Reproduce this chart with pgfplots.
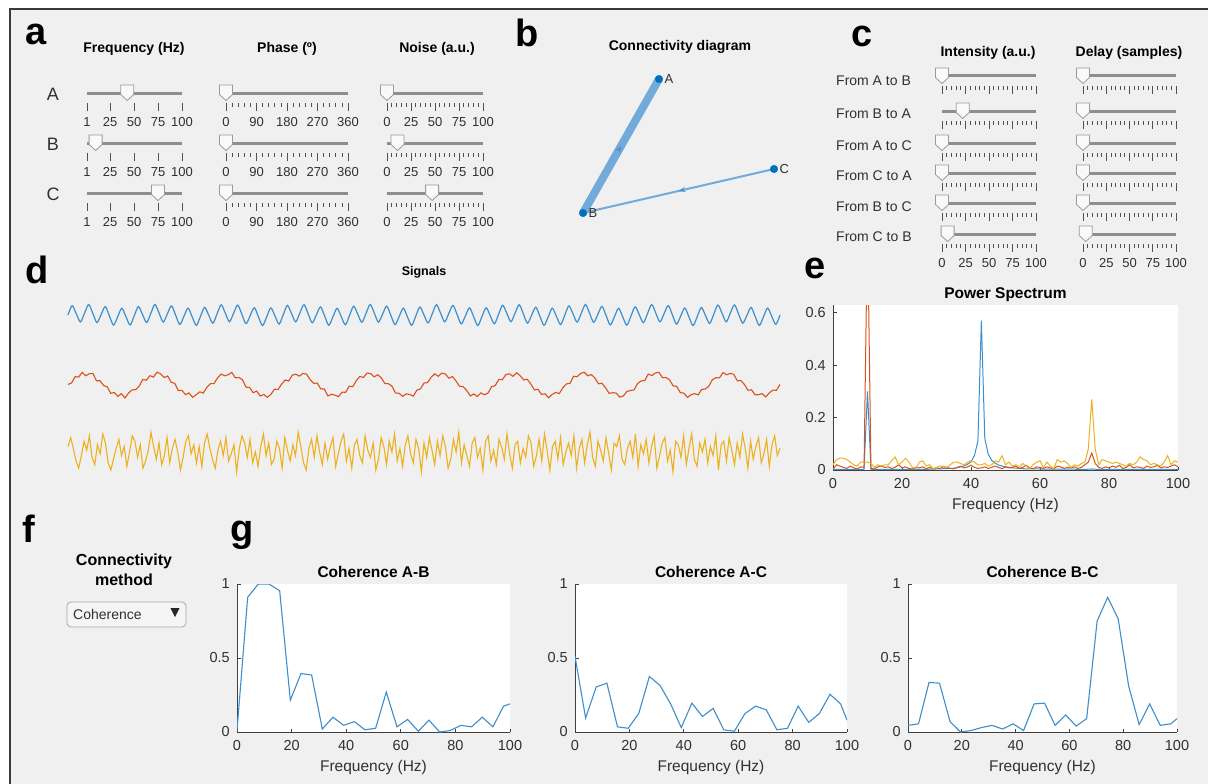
\documentclass[border=0pt]{standalone}
\usepackage{fontspec}
\setmainfont{Liberation Sans}
\usepackage{pgfplots}
\pgfplotsset{compat=1.18}
\usepackage{pgfplotstable}
\usetikzlibrary{decorations.markings, arrows.meta}

\definecolor{bg}{HTML}{F0F0F0}
\definecolor{border}{HTML}{3A3A3A}
\definecolor{axgray}{HTML}{404040}
\definecolor{tickgray}{HTML}{303030}
\definecolor{trackgray}{HTML}{8E8E8E}
\definecolor{sltick}{HTML}{505050}
\definecolor{thumbedge}{HTML}{9A9A9A}
\definecolor{thumbfill}{HTML}{F9F9F9}
\definecolor{mblue}{HTML}{0072BD}
\definecolor{lblue}{HTML}{3D8FCC}
\definecolor{mred}{HTML}{D95319}
\definecolor{myel}{HTML}{EDB120}
\definecolor{edgeblue}{HTML}{72ABD9}
\definecolor{edgedark}{HTML}{4F92CC}

\pgfdeclareplotmark{thumb}{%
  \pgfpathmoveto{\pgfqpoint{-6.5pt}{8pt}}%
  \pgfpathlineto{\pgfqpoint{6.5pt}{8pt}}%
  \pgfpathlineto{\pgfqpoint{6.5pt}{-1.5pt}}%
  \pgfpathlineto{\pgfqpoint{0pt}{-7.5pt}}%
  \pgfpathlineto{\pgfqpoint{-6.5pt}{-1.5pt}}%
  \pgfpathclose
  \pgfusepathqfillstroke}

\pgfplotsset{
  slider/.style={
    scale only axis, height=10pt, ymin=0, ymax=1, anchor=north west,
    axis x line*=bottom, axis y line=none,
    x axis line style={draw=none},
    tick align=outside, major tick length=8pt, minor tick length=3.5pt,
    minor x tick num=4,
    tick style={draw=sltick, line width=0.8pt},
    xticklabel style={font=\fontsize{13}{13}\selectfont, text=tickgray, anchor=center, inner sep=0pt, yshift=-11pt},
    /pgf/number format/assume math mode=true,
    clip=false,
  },
  nolab/.style={xticklabels={}},
  withlab/.style={},
  matax/.style={
    scale only axis, anchor=south west,
    axis background/.style={fill=white},
    axis x line*=bottom, axis y line*=left,
    axis line style={draw=axgray, line width=0.8pt},
    tick align=inside, major tick length=3.5pt,
    tick style={draw=axgray, line width=0.8pt},
    xticklabel style={font=\fontsize{14.5}{15}\selectfont, text=tickgray, anchor=center, inner sep=0pt, yshift=-13.5pt},
    yticklabel style={font=\fontsize{14.5}{15}\selectfont, text=tickgray, anchor=east, inner sep=0pt, xshift=-7pt},
    /pgf/number format/assume math mode=true,
    xlabel style={font=\fontsize{15.5}{16}\selectfont, text=tickgray, at={(0.5,0)}, anchor=center, yshift=-35.5pt},
    title style={font=\fontsize{15.5}{16}\selectfont\bfseries, at={(0.5,1)}, anchor=base, yshift=1pt},
    enlargelimits=false,
    xmin=0, xmax=100, xtick={0,20,...,100},
  },
}

\newcommand\slider[8]{%
\begin{axis}[slider, at={(#1pt,-#2pt)}, width=#3pt, xmin=#4, xmax=#5, xtick={#6}, #8]
\addplot[draw=trackgray, line width=3pt] coordinates {(#4,1) (#5,1)};
\addplot[only marks, mark=thumb, mark options={fill=thumbfill, draw=thumbedge, line width=0.8pt}] coordinates {(#7,1)};
\end{axis}}

\pgfplotstableread[row sep=\\]{
f ab ac bc\\
0 0.01 0.51 0.045\\
3.906 0.91 0.095 0.055\\
7.813 1.0 0.305 0.335\\
11.719 1.0 0.33 0.33\\
15.625 0.955 0.035 0.07\\
19.531 0.215 0.025 0.0\\
23.438 0.395 0.125 0.01\\
27.344 0.385 0.375 0.03\\
31.25 0.02 0.315 0.045\\
35.156 0.10 0.19 0.02\\
39.063 0.045 0.03 0.055\\
42.969 0.07 0.195 0.01\\
46.875 0.015 0.105 0.19\\
50.781 0.025 0.16 0.195\\
54.688 0.27 0.015 0.045\\
58.594 0.035 0.005 0.115\\
62.5 0.085 0.125 0.04\\
66.406 0.005 0.175 0.09\\
70.313 0.08 0.15 0.75\\
74.219 0.0 0.015 0.91\\
78.125 0.01 0.025 0.765\\
82.031 0.045 0.175 0.31\\
85.938 0.035 0.065 0.05\\
89.844 0.10 0.125 0.19\\
93.75 0.035 0.255 0.045\\
97.656 0.175 0.19 0.055\\
100 0.19 0.08 0.09\\
}\coh

\pgfplotstableread[row sep=\\]{
f A B C\\
0 0.002 0.003 0.02\\
1 0.002 0.02 0.04\\
2 0.002 0.015 0.045\\
3 0.002 0.01 0.045\\
4 0.002 0.006 0.04\\
5 0.002 0.015 0.03\\
6 0.002 0.008 0.02\\
7 0.002 0.004 0.015\\
8 0.002 0.012 0.03\\
9 0.003 0.01 0.03\\
10 0.30 0.95 0.03\\
11 0.003 0.006 0.025\\
12 0.002 0.004 0.01\\
13 0.002 0.012 0.02\\
14 0.002 0.015 0.015\\
15 0.002 0.01 0.02\\
16 0.002 0.012 0.02\\
17 0.002 0.006 0.035\\
18 0.002 0.01 0.05\\
19 0.002 0.02 0.02\\
20 0.002 0.008 0.03\\
21 0.002 0.012 0.045\\
22 0.002 0.006 0.03\\
23 0.002 0.004 0.01\\
24 0.002 0.01 0.005\\
25 0.002 0.008 0.03\\
26 0.002 0.012 0.035\\
27 0.002 0.005 0.015\\
28 0.003 0.01 0.02\\
29 0.003 0.004 0.005\\
30 0.004 0.008 0.01\\
31 0.004 0.006 0.015\\
32 0.005 0.012 0.015\\
33 0.005 0.01 0.01\\
34 0.006 0.006 0.02\\
35 0.007 0.004 0.03\\
36 0.009 0.01 0.03\\
37 0.012 0.015 0.025\\
38 0.016 0.008 0.02\\
39 0.022 0.012 0.03\\
40 0.032 0.018 0.035\\
41 0.055 0.01 0.03\\
42 0.11 0.006 0.02\\
43 0.57 0.008 0.02\\
44 0.12 0.012 0.025\\
45 0.06 0.006 0.015\\
46 0.037 0.01 0.02\\
47 0.026 0.015 0.035\\
48 0.019 0.01 0.03\\
49 0.015 0.005 0.055\\
50 0.012 0.012 0.02\\
51 0.010 0.008 0.03\\
52 0.008 0.01 0.015\\
53 0.007 0.015 0.02\\
54 0.006 0.006 0.01\\
55 0.005 0.01 0.025\\
56 0.004 0.018 0.015\\
57 0.004 0.008 0.005\\
58 0.004 0.005 0.02\\
59 0.004 0.012 0.03\\
60 0.004 0.01 0.035\\
61 0.003 0.006 0.01\\
62 0.003 0.012 0.03\\
63 0.003 0.008 0.015\\
64 0.003 0.004 0.005\\
65 0.003 0.015 0.04\\
66 0.003 0.012 0.03\\
67 0.003 0.006 0.035\\
68 0.003 0.01 0.025\\
69 0.003 0.008 0.01\\
70 0.003 0.012 0.02\\
71 0.002 0.006 0.015\\
72 0.002 0.01 0.025\\
73 0.002 0.02 0.03\\
74 0.003 0.03 0.08\\
75 0.004 0.065 0.27\\
76 0.003 0.025 0.08\\
77 0.002 0.01 0.02\\
78 0.002 0.006 0.04\\
79 0.002 0.012 0.035\\
80 0.002 0.008 0.03\\
81 0.002 0.015 0.025\\
82 0.002 0.01 0.03\\
83 0.002 0.018 0.025\\
84 0.002 0.006 0.02\\
85 0.002 0.01 0.015\\
86 0.002 0.02 0.025\\
87 0.002 0.008 0.02\\
88 0.002 0.012 0.03\\
89 0.002 0.01 0.05\\
90 0.002 0.006 0.04\\
91 0.002 0.015 0.035\\
92 0.002 0.01 0.02\\
93 0.002 0.012 0.025\\
94 0.002 0.018 0.02\\
95 0.002 0.008 0.015\\
96 0.002 0.012 0.03\\
97 0.002 0.01 0.055\\
98 0.002 0.015 0.02\\
99 0.002 0.02 0.035\\
100 0.002 0.012 0.03\\
}\spec

\pgfplotstableread[row sep=\\, header=false]{
0\\1.08\\0.15\\-0.80\\0.22\\1.21\\0.18\\-0.88\\0.05\\0.97\\-0.11\\-1.17\\-0.21\\0.78\\-0.20\\-1.16\\-0.09\\0.98\\0.06\\-0.87\\0.19\\1.22\\0.22\\-0.81\\0.13\\1.06\\-0.02\\-1.09\\-0.16\\0.80\\-0.22\\-1.21\\-0.17\\0.89\\-0.03\\-0.95\\0.12\\1.18\\0.21\\-0.78\\0.20\\1.15\\0.08\\
-1.00\\-0.08\\0.85\\-0.20\\-1.22\\-0.21\\0.82\\-0.12\\-1.05\\0.03\\1.11\\0.17\\-0.79\\0.22\\1.20\\0.16\\-0.91\\0.02\\0.94\\-0.13\\-1.19\\-0.22\\0.78\\-0.19\\-1.13\\-0.06\\1.02\\0.09\\-0.84\\0.20\\1.22\\0.21\\-0.83\\0.11\\1.03\\-0.05\\-1.12\\-0.18\\0.79\\-0.22\\-1.20\\-0.15\\0.92\\
0\\-0.92\\0.15\\1.20\\0.22\\-0.79\\0.18\\1.12\\0.05\\-1.03\\-0.11\\0.83\\-0.21\\-1.22\\-0.20\\0.84\\-0.09\\-1.02\\0.06\\1.13\\0.19\\-0.78\\0.22\\1.19\\0.13\\-0.94\\-0.02\\0.91\\-0.16\\-1.20\\-0.22\\0.79\\-0.17\\-1.11\\-0.03\\1.05\\0.12\\-0.82\\0.21\\1.22\\0.20\\-0.85\\0.08\\
1.00\\-0.08\\-1.15\\-0.20\\0.78\\-0.21\\-1.18\\-0.12\\0.95\\0.03\\-0.89\\0.17\\1.21\\0.22\\-0.80\\0.16\\1.09\\0.02\\-1.06\\-0.13\\0.81\\-0.22\\-1.22\\-0.19\\0.87\\-0.06\\-0.98\\0.09\\1.16\\0.20\\-0.79\\0.21\\1.17\\0.11\\-0.95\\-0.05\\0.88\\-0.18\\-1.21\\-0.22\\0.80\\-0.15\\-1.08\\0\\
}\sigA

\pgfplotstableread[row sep=\\, header=false]{
0.05\\0.19\\0.77\\0.73\\1.17\\0.85\\1.05\\1.06\\0.39\\0.39\\-0.05\\-0.16\\-0.77\\-0.69\\-1.05\\-0.80\\-1.20\\-0.75\\-0.45\\-0.43\\
-0.10\\0.51\\0.44\\0.86\\0.73\\1.18\\1.03\\0.69\\0.83\\0.25\\0.15\\-0.51\\-0.49\\-0.89\\-0.73\\-1.14\\-0.90\\-0.63\\-0.75\\-0.22\\
0.12\\0.13\\0.65\\1.01\\0.85\\0.95\\1.17\\0.66\\0.69\\0.49\\-0.20\\-0.23\\-0.71\\-0.56\\-1.01\\-0.88\\-1.13\\-0.86\\-0.39\\-0.41\\
0.08\\0.46\\0.37\\0.91\\1.00\\0.82\\1.07\\1.01\\0.51\\0.16\\0.18\\-0.36\\-0.37\\-1.01\\-0.85\\-0.94\\-1.07\\-0.66\\-0.67\\-0.11\\
-0.15\\0.41\\0.79\\0.69\\1.11\\1.05\\0.75\\0.95\\0.67\\0.13\\0.12\\-0.11\\-0.74\\-0.76\\-1.05\\-0.82\\-0.87\\-1.03\\-0.47\\-0.36\\
0.18\\0.23\\0.71\\1.03\\0.80\\1.10\\1.01\\0.63\\0.79\\0.36\\-0.12\\-0.16\\-0.51\\-1.01\\-0.83\\-1.06\\-0.73\\-0.91\\-0.74\\-0.15\\
-0.06\\0.51\\0.49\\0.96\\1.03\\0.80\\1.13\\0.86\\0.47\\0.53\\0.10\\-0.46\\-0.39\\-0.87\\-0.81\\-1.18\\-0.87\\-0.69\\-0.79\\-0.25\\
0.10\\0.15\\0.81\\0.76\\1.07\\1.18\\0.85\\0.96\\0.65\\0.11\\0.16\\-0.26\\-0.77\\-0.71\\-0.75\\-1.12\\-1.01\\-0.59\\-0.51\\-0.45\\
0.14\\0.37\\0.41\\1.01\\0.87\\1.12\\1.17\\0.67\\0.69\\0.46\\-0.08\\-0.13\\-0.71\\-0.75\\-1.15\\-0.90\\-0.80\\-0.91\\-0.41\\-0.37\\
-0.12\\0.49\\0.67\\0.66\\1.15\\0.94\\1.07\\0.99\\0.39\\0.41\\0.05\\-0.49\\-0.44\\-0.91\\-0.89\\-0.80\\-1.10\\-0.73\\-0.47\\-0.49\\0.05\\
}\sigB

\pgfplotstableread[row sep=\\, header=false]{
0.3\\0.8\\0.2\\-0.5\\-0.9\\-0.2\\0.6\\0.1\\0.9\\-0.3\\-0.7\\0.4\\-0.1\\1.0\\0.5\\-0.6\\-1.0\\-0.4\\0.2\\0.7\\
-0.2\\0.3\\-0.8\\0.0\\0.9\\0.6\\-0.3\\0.4\\-0.9\\-0.5\\0.1\\1.1\\0.3\\-0.4\\0.5\\-0.7\\-0.2\\0.8\\-0.6\\0.2\\
0.7\\0.0\\-1.0\\-0.3\\0.6\\0.9\\-0.1\\0.4\\-0.6\\0.3\\-0.8\\0.5\\1.0\\0.2\\-0.4\\-0.9\\0.1\\0.6\\-0.2\\0.8\\
-0.5\\-0.1\\0.4\\-1.1\\0.2\\0.9\\0.5\\-0.3\\0.7\\-0.6\\0.0\\-0.8\\0.3\\1.0\\-0.2\\0.5\\-0.7\\-0.4\\0.6\\0.2\\
-0.9\\0.8\\0.1\\-0.5\\0.4\\-0.2\\1.1\\0.3\\-0.6\\-1.0\\0.2\\0.7\\-0.3\\0.9\\0.0\\-0.7\\0.5\\-0.4\\0.3\\0.8\\
-0.8\\-0.1\\0.6\\1.0\\-0.5\\0.2\\-0.9\\0.4\\0.7\\-0.2\\-0.6\\0.9\\0.1\\-0.3\\0.5\\-1.0\\-0.4\\0.8\\0.3\\-0.7\\
0.6\\0.0\\1.0\\-0.5\\0.2\\-0.8\\0.4\\0.9\\-0.1\\-0.6\\0.7\\0.2\\-1.1\\0.5\\-0.3\\0.8\\0.1\\-0.7\\0.6\\-0.2\\
0.9\\0.3\\-0.9\\-0.4\\0.7\\0.0\\1.1\\-0.6\\0.4\\-0.2\\-0.8\\0.5\\0.8\\-0.3\\0.2\\-1.0\\0.6\\0.9\\-0.5\\0.1\\
-0.7\\0.7\\0.3\\-0.4\\1.0\\-0.1\\-0.9\\0.4\\0.6\\-0.6\\0.2\\-0.3\\0.9\\0.5\\-0.8\\-0.2\\0.7\\-0.5\\1.0\\0.1\\
-1.0\\0.3\\0.6\\-0.4\\0.8\\-0.7\\0.0\\0.5\\-0.2\\0.9\\-0.9\\0.2\\0.7\\-0.6\\0.4\\1.1\\-0.3\\-0.8\\0.6\\0.1\\
-0.5\\0.8\\-0.1\\-1.0\\0.5\\0.3\\0.9\\-0.4\\-0.7\\0.2\\0.6\\-0.3\\1.0\\-0.8\\0.4\\-0.1\\0.7\\-0.6\\0.3\\0.9\\
-0.9\\-0.2\\0.5\\0.8\\-0.5\\0.1\\-1.1\\0.6\\0.4\\-0.3\\0.9\\-0.7\\0.2\\1.0\\-0.4\\-0.8\\0.5\\0.0\\0.7\\-0.6\\
0.3\\-0.2\\0.9\\-1.0\\0.4\\0.6\\-0.5\\0.8\\0.1\\-0.7\\0.5\\-0.3\\1.0\\0.2\\-0.9\\0.6\\-0.4\\0.3\\0.8\\-0.6\\
-0.1\\0.7\\-0.8\\0.4\\0.9\\-0.2\\0.2\\\\
}\sigC

\begin{document}
\begin{tikzpicture}
\useasboundingbox (0,0) rectangle (1208pt,-784pt);
\fill[white] (0,0) rectangle (1208pt,-784pt);
\fill[bg] (9.5pt,-9.5pt) rectangle (1208pt,-784pt);
\draw[border, line width=2pt] (9.5pt,-784pt) -- (9.5pt,-9.5pt) -- (1208pt,-9.5pt);

% ---------- panel a sliders
\slider{87}{93}{95}{1}{100}{1,25,50,75,100}{43}{withlab}
\slider{87}{143}{95}{1}{100}{1,25,50,75,100}{10}{withlab}
\slider{87}{193}{95}{1}{100}{1,25,50,75,100}{75}{withlab}
\slider{226}{93}{122}{0}{360}{0,90,180,270,360}{0}{withlab}
\slider{226}{143}{122}{0}{360}{0,90,180,270,360}{0}{withlab}
\slider{226}{193}{122}{0}{360}{0,90,180,270,360}{0}{withlab}
\slider{387}{93}{96}{0}{100}{0,25,50,75,100}{0}{withlab}
\slider{387}{143}{96}{0}{100}{0,25,50,75,100}{11}{withlab}
\slider{387}{193}{96}{0}{100}{0,25,50,75,100}{47}{withlab}

% ---------- panel c sliders
\slider{942}{76}{94}{0}{100}{0,25,50,75,100}{0}{nolab}
\slider{942}{111}{94}{0}{100}{0,25,50,75,100}{22}{nolab}
\slider{942}{143}{94}{0}{100}{0,25,50,75,100}{0}{nolab}
\slider{942}{173}{94}{0}{100}{0,25,50,75,100}{0}{nolab}
\slider{942}{203}{94}{0}{100}{0,25,50,75,100}{0}{nolab}
\slider{942}{234}{94}{0}{100}{0,25,50,75,100}{6}{withlab}
\slider{1083}{76}{93}{0}{100}{0,25,50,75,100}{0}{nolab}
\slider{1083}{111}{93}{0}{100}{0,25,50,75,100}{0}{nolab}
\slider{1083}{143}{93}{0}{100}{0,25,50,75,100}{0}{nolab}
\slider{1083}{173}{93}{0}{100}{0,25,50,75,100}{0}{nolab}
\slider{1083}{203}{93}{0}{100}{0,25,50,75,100}{0}{nolab}
\slider{1083}{234}{93}{0}{100}{0,25,50,75,100}{3}{withlab}

% ---------- panel b connectivity diagram
\begin{axis}[at={(560pt,-240pt)}, anchor=south west, scale only axis, width=240pt, height=180pt,
  xmin=560, xmax=800, ymin=60, ymax=240, y dir=reverse, hide axis, clip=false]
\addplot[edgeblue, line width=8pt, postaction={decorate},
  decoration={markings, mark=at position 0.5 with {\arrow[line width=0.5pt, edgedark]{Stealth[length=7pt,width=6pt]}}}]
  coordinates {(583,213) (659,79)};
\addplot[edgeblue, line width=2pt, postaction={decorate},
  decoration={markings, mark=at position 0.5 with {\arrow[line width=0.5pt, edgedark]{Stealth[length=7pt,width=5pt]}}}]
  coordinates {(774,169) (583,213)};
\addplot[only marks, mark=*, mark size=3.8pt, mblue, point meta=explicit symbolic,
  nodes near coords, nodes near coords style={anchor=west, font=\fontsize{13}{13}\selectfont, text=tickgray, xshift=2pt}]
  coordinates {(659,79)[A] (583,213)[B] (774,169)[C]};
\end{axis}

% ---------- panel d signals
\begin{axis}[at={(68pt,-315pt)}, anchor=west, scale only axis, width=712pt, height=25.8pt,
  ymin=-1.5, ymax=1.5, hide axis, enlarge x limits=false, clip=false]
\addplot[lblue, line width=1.2pt, smooth] table[x expr=\coordindex, y index=0]{\sigA};
\end{axis}
\begin{axis}[at={(68pt,-385pt)}, anchor=west, scale only axis, width=712pt, height=32.5pt,
  ymin=-1.5, ymax=1.5, hide axis, enlarge x limits=false, clip=false]
\addplot[mred, line width=1.1pt] table[x expr=\coordindex, y index=0]{\sigB};
\end{axis}
\begin{axis}[at={(68pt,-452pt)}, anchor=west, scale only axis, width=712pt, height=54pt,
  ymin=-1.5, ymax=1.5, hide axis, enlarge x limits=false, clip=false]
\addplot[myel, line width=1.1pt] table[x expr=\coordindex, y index=0]{\sigC};
\end{axis}

% ---------- panel e power spectrum
\begin{axis}[matax, at={(833pt,-470pt)}, width=345pt, height=165pt,
  ymin=0, ymax=0.63, ytick={0,0.2,0.4,0.6},
  title={Power Spectrum}, xlabel={Frequency (Hz)}]
\addplot[lblue, line width=1pt] table[x=f, y=A]{\spec};
\addplot[mred, line width=1pt] table[x=f, y=B]{\spec};
\addplot[myel, line width=1pt] table[x=f, y=C]{\spec};
\end{axis}

% ---------- panel g coherence
\begin{axis}[matax, at={(237pt,-732pt)}, width=273pt, height=148pt,
  ymin=0, ymax=1, ytick={0,0.5,1}, title={Coherence A-B}, xlabel={Frequency (Hz)}]
\addplot[lblue, line width=1.1pt] table[x=f, y=ab]{\coh};
\end{axis}
\begin{axis}[matax, at={(575pt,-732pt)}, width=272pt, height=148pt,
  ymin=0, ymax=1, ytick={0,0.5,1}, title={Coherence A-C}, xlabel={Frequency (Hz)}]
\addplot[lblue, line width=1.1pt] table[x=f, y=ac]{\coh};
\end{axis}
\begin{axis}[matax, at={(908pt,-732pt)}, width=269pt, height=148pt,
  ymin=0, ymax=1, ytick={0,0.5,1}, title={Coherence B-C}, xlabel={Frequency (Hz)}]
\addplot[lblue, line width=1.1pt] table[x=f, y=bc]{\coh};
\end{axis}

% ---------- texts
\begin{scope}[x=1pt, y=-1pt, every node/.style={inner sep=0pt}]
\def\plet{\fontsize{38}{38}\selectfont\bfseries}
\def\hdr{\fontsize{14}{14}\selectfont\bfseries}
\node[anchor=base west] at (25,45) {\plet a};
\node[anchor=base west] at (515,47) {\plet b};
\node[anchor=base west] at (851,47) {\plet c};
\node[anchor=base west] at (25,283) {\plet d};
\node[anchor=base west] at (804,278) {\plet e};
\node[anchor=base west] at (22,542) {\plet f};
\node[anchor=base west] at (230,541) {\plet g};

\node[anchor=base] at (134,53) {\hdr Frequency (Hz)};
\node[anchor=base] at (287,53) {\hdr Phase (º)};
\node[anchor=base] at (437,53) {\hdr Noise (a.u.)};
\node[anchor=base, text=tickgray] at (53,100) {\fontsize{18}{18}\selectfont A};
\node[anchor=base, text=tickgray] at (53,150) {\fontsize{18}{18}\selectfont B};
\node[anchor=base, text=tickgray] at (53,200) {\fontsize{18}{18}\selectfont C};

\node[anchor=base] at (680,51) {\hdr Connectivity diagram};

\node[anchor=base] at (988,57) {\hdr Intensity (a.u.)};
\node[anchor=base] at (1129,57) {\hdr Delay (samples)};
\foreach \lab/\yy in {From A to B/85, From B to A/118, From A to C/150, From C to A/180, From B to C/211, From C to B/241}
  \node[anchor=base west, text=tickgray] at (836,\yy) {\fontsize{14}{14}\selectfont \lab};

\node[anchor=base] at (424,275) {\fontsize{12.5}{12.5}\selectfont\bfseries Signals};

\node[anchor=base] at (124,565) {\fontsize{16}{16}\selectfont\bfseries Connectivity};
\node[anchor=base] at (124,585) {\fontsize{16}{16}\selectfont\bfseries method};
\draw[rounded corners=4pt, fill=white!96!black, draw=black!35, line width=0.8pt] (67,602) rectangle (186,627);
\node[anchor=base west, text=tickgray] at (73,619) {\fontsize{14}{14}\selectfont Coherence};
\fill[black!85] (170.5,608) -- (179.5,608) -- (175,617) -- cycle;
\end{scope}
\end{tikzpicture}
\end{document}
